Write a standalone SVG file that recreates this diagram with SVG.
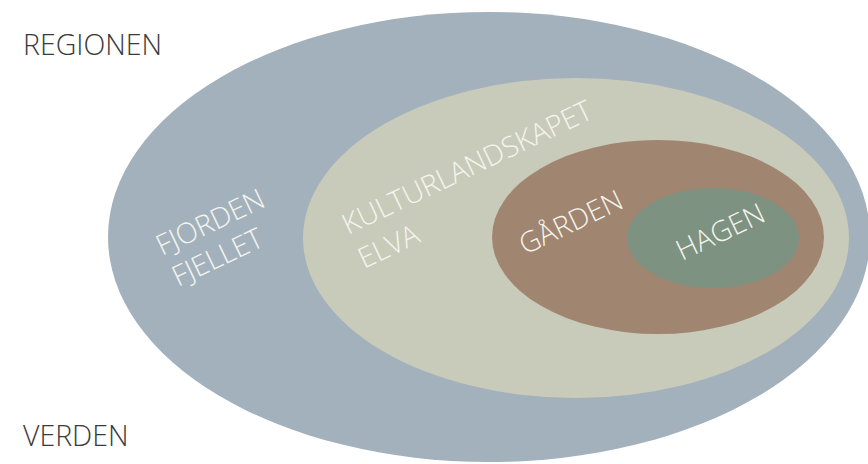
<svg xmlns="http://www.w3.org/2000/svg" width="868" height="464" viewBox="0 0 868 464">
<style>
.lbl{font-family:"Open Sans","Liberation Sans",sans-serif;font-size:28.5px;font-weight:300;}
.dark{fill:#3a3a3a;}
.light{fill:#f4f4ee;}
</style>
<rect x="0" y="0" width="868" height="464" fill="#ffffff"/>
<g id="verden">
<ellipse cx="489" cy="237" rx="381" ry="225" fill="#a3b1bc"/>
</g>
<g id="kulturlandskapet">
<ellipse cx="576" cy="238" rx="273" ry="160" fill="#c8cbba"/>
</g>
<g id="garden">
<ellipse cx="658" cy="237" rx="166" ry="97" fill="#a08570"/>
</g>
<g id="hagen">
<ellipse cx="713" cy="238" rx="86" ry="50" fill="#7e9282"/>
</g>
<g id="connectors"></g>
<g id="labels">
<text class="lbl dark" x="23" y="55">REGIONEN</text>
<text class="lbl dark" x="23" y="446">VERDEN</text>
<text class="lbl light" transform="translate(162,256) rotate(-25.5)">FJORDEN</text>
<text class="lbl light" transform="translate(178,287) rotate(-25.5)">FJELLET</text>
<text class="lbl light" transform="translate(348,235) rotate(-25.5)">KULTURLANDSKAPET</text>
<text class="lbl light" transform="translate(364,269) rotate(-25.5)">ELVA</text>
<text class="lbl light" transform="translate(525,255) rotate(-25.5)">GÅRDEN</text>
<text class="lbl light" transform="translate(682,261) rotate(-25.5)">HAGEN</text>
</g>
</svg>
